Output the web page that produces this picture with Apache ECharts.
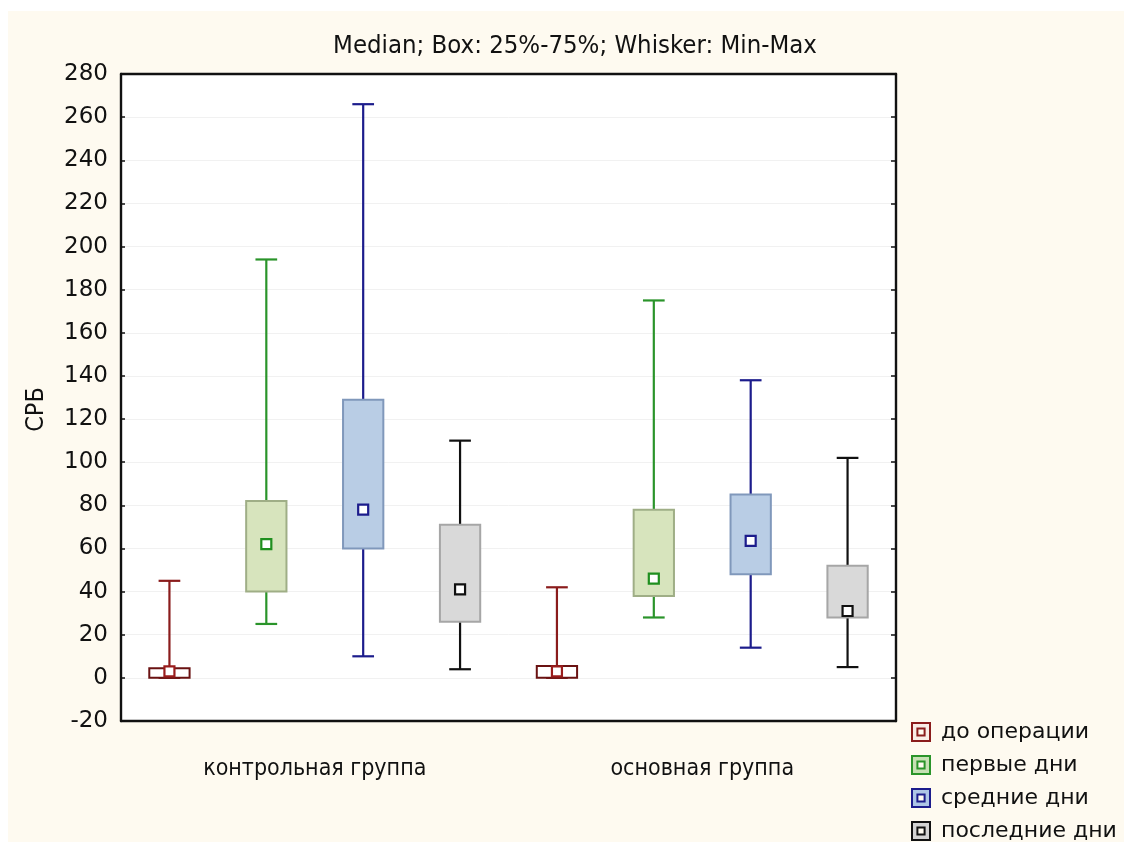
<!DOCTYPE html>
<html><head><meta charset="utf-8">
<script src="https://cdn.jsdelivr.net/npm/echarts@6/dist/echarts.min.js"></script>
<style>
html,body{margin:0;padding:0;background:#ffffff;width:1124px;height:842px;overflow:hidden;}
#wrap{position:absolute;left:8px;top:11px;width:1116px;height:900px;background:#fefaf0;}
#chart{width:1116px;height:900px;}
</style>
</head><body><div id="wrap"><div id="chart"></div></div>
<script>
// ---- data ----
const categories = ['контрольная группа', 'основная группа'];
const seriesNames = ['до операции', 'первые дни', 'средние дни', 'последние дни'];
// each entry: [min, q1 (25%), median, q3 (75%), max] for the two groups
const beforeSurgery = [[0, 0, 3, 4.5, 45], [0, 0, 3, 5.5, 42]];
const firstDays     = [[25, 40, 62, 82, 194], [28, 38, 46, 78, 175]];
const middleDays    = [[10, 60, 78, 129, 266], [14, 48, 63.5, 85, 138]];
const lastDays      = [[4, 26, 41, 71, 110], [5, 28, 31, 52, 102]];
const yMin = -20, yMax = 280, yStep = 20;
const titleText = 'Median; Box: 25%-75%; Whisker: Min-Max';
const yName = 'СРБ';

// ---- styles ----
const styles = [
  { line: '#8a1c1c', fill: '#ffffff', border: '#6a1212', mark: '#9a1c1c', icon: '#f8ece6' },
  { line: '#2a942a', fill: '#d7e4bd', border: '#9fae86', mark: '#1f8f1f', icon: '#c6e0b4' },
  { line: '#1c1c8c', fill: '#b9cde5', border: '#8098bb', mark: '#1c1c8c', icon: '#adc5e6' },
  { line: '#111111', fill: '#d9d9d9', border: '#a6a6a6', mark: '#111111', icon: '#d2d2d2' }
];
const allData = [beforeSurgery, firstDays, middleDays, lastDays];
const narrow = '"Liberation Sans Narrow", "DejaVu Sans Condensed", "Liberation Sans", sans-serif';
const wide = '"DejaVu Sans", "Liberation Sans", sans-serif';

function makeRender(sIdx) {
  const st = styles[sIdx];
  return function (params, api) {
    const cat = api.value(0);
    const band = api.size([1, 0])[0];
    const cx = api.coord([cat, 0])[0] + (sIdx - 1.5) * 0.25 * band;
    const pMin = api.coord([cat, api.value(1)])[1];
    const pQ1 = api.coord([cat, api.value(2)])[1];
    const pMed = api.coord([cat, api.value(3)])[1];
    const pQ3 = api.coord([cat, api.value(4)])[1];
    const pMax = api.coord([cat, api.value(5)])[1];
    const hw = band * 0.052, cw = band * 0.028, m = 5;
    const ls = { stroke: st.line, lineWidth: 2.2 };
    return {
      type: 'group',
      children: [
        { type: 'line', shape: { x1: cx, y1: pMax, x2: cx, y2: pQ3 }, style: ls },
        { type: 'line', shape: { x1: cx, y1: pQ1, x2: cx, y2: pMin }, style: ls },
        { type: 'line', shape: { x1: cx - cw, y1: pMax, x2: cx + cw, y2: pMax }, style: ls },
        { type: 'line', shape: { x1: cx - cw, y1: pMin, x2: cx + cw, y2: pMin }, style: ls },
        { type: 'rect', shape: { x: cx - hw, y: pQ3, width: 2 * hw, height: pQ1 - pQ3 },
          style: { fill: st.fill, stroke: st.border, lineWidth: 2 } },
        { type: 'rect', shape: { x: cx - m, y: pMed - m, width: 2 * m, height: 2 * m },
          style: { fill: '#ffffff', stroke: st.mark, lineWidth: 2.2 } }
      ]
    };
  };
}

const series = seriesNames.map(function (name, i) {
  return {
    name: name,
    type: 'custom',
    renderItem: makeRender(i),
    itemStyle: { color: styles[i].icon, borderColor: styles[i].border },
    encode: { x: 0, y: [1, 2, 3, 4, 5] },
    data: allData[i].map(function (d, c) { return [c].concat(d); }),
    silent: true
  };
});

const iconPath = 'path://M0,0L20,0L20,20L0,20Z M6,6L6,14L14,14L14,6Z';

const chart = echarts.init(document.getElementById('chart'), null, { renderer: 'canvas' });
chart.setOption({
  animation: false,
  backgroundColor: 'transparent',
  title: {
    text: titleText, left: 562, textAlign: 'center', top: 17,
    textStyle: { fontFamily: narrow, fontSize: 25.5, fontWeight: 'normal', color: '#111' }
  },
  grid: { left: 113, top: 63, right: 228, bottom: 190, containLabel: false,
          show: true, backgroundColor: '#ffffff', borderWidth: 0 },
  legend: {
    orient: 'vertical', left: 898, top: 705, itemWidth: 18, itemHeight: 18, itemGap: 11,
    textStyle: { fontFamily: wide, fontSize: 22, color: '#111', padding: [0, 0, 0, 6] },
    data: seriesNames.map(function (n, i) {
      return { name: n, icon: iconPath,
        itemStyle: { color: styles[i].icon, borderColor: styles[i].line, borderWidth: 2 } };
    })
  },
  xAxis: [
    { type: 'category', data: categories, position: 'bottom',
      axisLine: { onZero: false, lineStyle: { color: '#111', width: 2.4 } },
      axisTick: { inside: true, alignWithLabel: true, length: 5, lineStyle: { color: '#111', width: 1.5 } },
      axisLabel: { margin: 37, fontFamily: narrow, fontSize: 23, color: '#111' },
      splitLine: { show: false } },
    { type: 'category', data: categories, position: 'top',
      axisLine: { onZero: false, lineStyle: { color: '#111', width: 2.4 } },
      axisTick: { inside: true, alignWithLabel: true, length: 5, lineStyle: { color: '#111', width: 1.5 } },
      axisLabel: { show: false }, splitLine: { show: false } }
  ],
  yAxis: [
    { type: 'value', min: yMin, max: yMax, interval: yStep, position: 'left',
      name: yName, nameLocation: 'middle', nameRotate: 90, nameGap: 72,
      nameTextStyle: { fontFamily: narrow, fontSize: 25, color: '#111', padding: [0, 24, 0, 0] },
      axisLine: { show: true, onZero: false, lineStyle: { color: '#111', width: 2.4 } },
      axisTick: { show: true, inside: true, length: 4, lineStyle: { color: '#111', width: 1.5 } },
      axisLabel: { margin: 13, fontFamily: wide, fontSize: 23, color: '#111' },
      splitLine: { show: true, lineStyle: { color: '#f1f1f1', width: 1 } } },
    { type: 'value', min: yMin, max: yMax, interval: yStep, position: 'right',
      axisLine: { show: true, onZero: false, lineStyle: { color: '#111', width: 2.4 } },
      axisTick: { show: true, inside: true, length: 5, lineStyle: { color: '#111', width: 1.5 } },
      axisLabel: { show: false }, splitLine: { show: false } }
  ],
  series: series
});
</script>
</body></html>
